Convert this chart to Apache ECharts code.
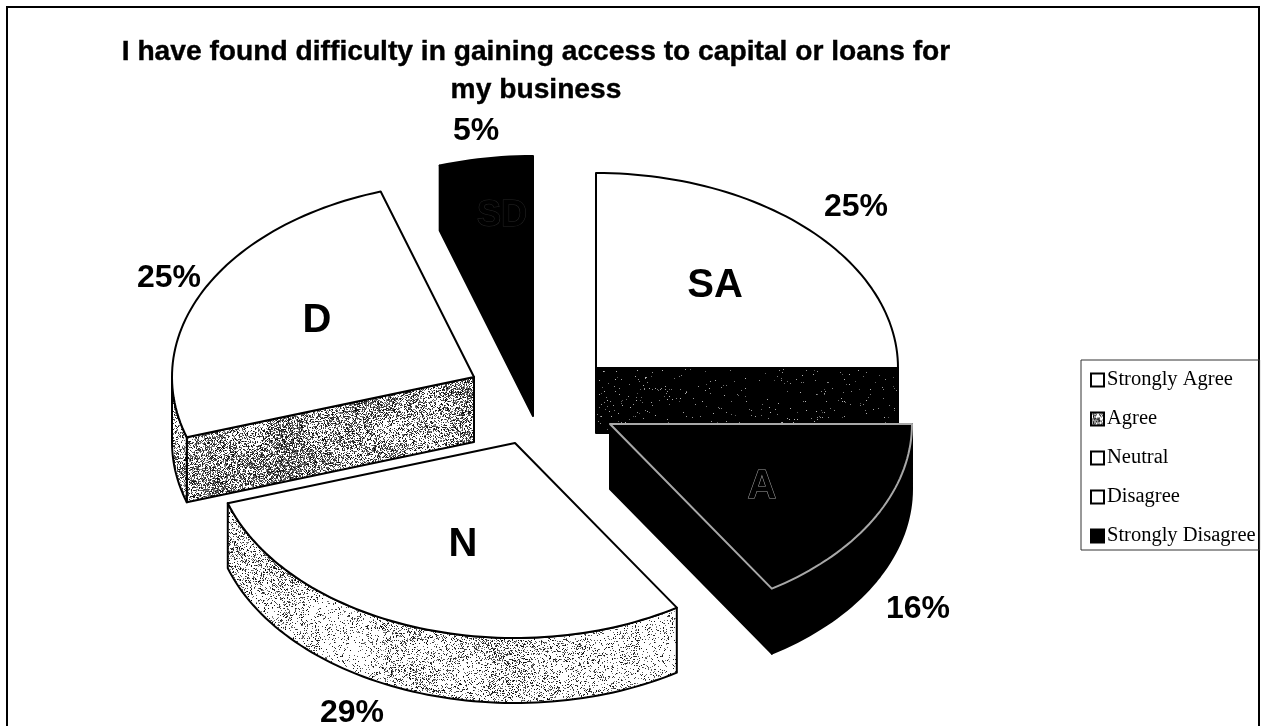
<!DOCTYPE html>
<html>
<head>
<meta charset="utf-8">
<style>html,body{margin:0;padding:0;background:#fff}#c{width:1268px;height:726px;filter:blur(0.45px)}</style>
<script src="https://cdn.jsdelivr.net/npm/echarts@6/dist/echarts.min.js"></script>
</head>
<body>
<div id="c"></div>
<script>
var titleText = 'I have found difficulty in gaining access to capital or loans for\nmy business';
var categories = ['Strongly Agree', 'Agree', 'Neutral', 'Disagree', 'Strongly Disagree'];
var abbreviations = ['SA', 'A', 'N', 'D', 'SD'];
var values = [25, 16, 29, 25, 5];

// Deterministic print-grain texture (not data)
function hash(x, y, s) {
  var n = Math.sin(x * 127.1 + y * 311.7 + s * 74.7) * 43758.5453;
  return n - Math.floor(n);
}
function blob(x, y, cell, s) {
  var gx = Math.floor(x / cell), gy = Math.floor(y / cell);
  var fx = x / cell - gx, fy = y / cell - gy;
  fx = fx * fx * (3 - 2 * fx); fy = fy * fy * (3 - 2 * fy);
  var a = hash(gx, gy, s), b = hash(gx + 1, gy, s), c = hash(gx, gy + 1, s), d = hash(gx + 1, gy + 1, s);
  return (a * (1 - fx) + b * fx) * (1 - fy) + (c * (1 - fx) + d * fx) * fy;
}
function grain(base, amp, seed, bg, fg) {
  var size = 320, cv = document.createElement('canvas');
  cv.width = size; cv.height = size;
  var ctx = cv.getContext('2d');
  ctx.fillStyle = bg; ctx.fillRect(0, 0, size, size);
  for (var y = 0; y < size; y++) for (var x = 0; x < size; x++) {
    var density = base + amp * (blob(x, y, 36, seed) - 0.5) * 2 + 0.3 * amp * (blob(x, y, 6, seed + 3) - 0.5) * 2;
    if (hash(x, y, seed + 9) < density) {
      ctx.globalAlpha = 0.45 + 0.55 * hash(x, y, seed + 17);
      ctx.fillStyle = fg;
      ctx.fillRect(x, y, 1, 1);
    }
  }
  ctx.globalAlpha = 1;
  return { image: cv, repeat: 'repeat' };
}

var darkGrain = grain(0.018, 0.012, 1, '#000000', '#bbbbbb');
var midGrain = grain(0.5, 0.22, 2, '#ffffff', '#000000');
var lightGrain = grain(0.22, 0.15, 3, '#ffffff', '#000000');

var RX = 302, RY = 195, DEPTH = 65;
var apex = [[596, 368], [610, 424], [515, 443], [474, 377], [533, 351]];
var topFill = ['#ffffff', '#000000', '#ffffff', '#ffffff', '#000000'];
var sideFill = [darkGrain, '#000000', lightGrain, midGrain, '#000000'];
var topStroke = ['#000000', '#a8a8a8', '#000000', '#000000', '#000000'];
var legendFill = ['#ffffff', midGrain, '#ffffff', '#ffffff', '#000000'];
var innerPos = [[715, 286], [762, 487], [463, 545], [317, 321], [502, 216]];
var innerStyle = [
  { fill: '#000', font: 'bold 40px "Liberation Sans"' },
  { fill: '#000', stroke: '#a0a0a0', lineWidth: 1, font: 'bold 40px "Liberation Sans"' },
  { fill: '#000', font: 'bold 40px "Liberation Sans"' },
  { fill: '#000', font: 'bold 40px "Liberation Sans"' },
  { fill: '#000', stroke: '#262626', lineWidth: 1, font: 'bold 36px "Liberation Sans"' }
];
var pctPos = [[856, 207], [918, 609], [352, 713], [169, 278], [476, 131]];

var total = values.reduce(function (a, b) { return a + b; }, 0);
function rim(c, deg, dz) {
  var t = deg * Math.PI / 180;
  return [c[0] + RX * Math.sin(t), c[1] - RY * Math.cos(t) + (dz || 0)];
}
function arc(c, a, b, dz) {
  var pts = [], n = Math.max(2, Math.ceil(Math.abs(b - a) / 1.5));
  for (var i = 0; i <= n; i++) pts.push(rim(c, a + (b - a) * i / n, dz));
  return pts;
}
function startAngle(idx) {
  var s = 0;
  for (var i = 0; i < idx; i++) s += values[i];
  return s / total * 360;
}
function wall(points, fill) {
  return { type: 'polygon', shape: { points: points }, style: { fill: fill, stroke: '#000', lineWidth: 2, lineJoin: 'round' } };
}
function renderSlice(idx) {
  return function (params, api) {
    var c = apex[idx], a0 = startAngle(idx), a1 = a0 + api.value(0) / total * 360;
    var kids = [], d = [c[0], c[1] + DEPTH];
    var s0 = Math.sin(a0 * Math.PI / 180), s1 = Math.sin(a1 * Math.PI / 180);
    if (s0 < -1e-6) {
      kids.push(wall([c, rim(c, a0), rim(c, a0, DEPTH), d], sideFill[idx]));
    }
    if (s1 > 1e-6) {
      kids.push(wall([c, rim(c, a1), rim(c, a1, DEPTH), d], sideFill[idx]));
    }
    var f0 = Math.max(a0, 90), f1 = Math.min(a1, 270);
    if (f1 > f0) {
      kids.push(wall(arc(c, f0, f1).concat(arc(c, f1, f0, DEPTH)), sideFill[idx]));
    }
    kids.push({
      type: 'polygon',
      shape: { points: [c].concat(arc(c, a0, a1)) },
      style: { fill: topFill[idx], stroke: topStroke[idx], lineWidth: 2, lineJoin: 'round' }
    });
    var st = innerStyle[idx];
    kids.push({
      type: 'text', x: innerPos[idx][0], y: innerPos[idx][1],
      style: { text: abbreviations[idx], font: st.font, fill: st.fill, stroke: st.stroke, lineWidth: st.lineWidth, textAlign: 'center', textVerticalAlign: 'middle' }
    });
    kids.push({
      type: 'text', x: pctPos[idx][0], y: pctPos[idx][1],
      style: { text: api.value(0) + '%', font: 'bold 32px "Liberation Sans"', fill: '#000', textAlign: 'center', textVerticalAlign: 'middle' }
    });
    return { type: 'group', children: kids };
  };
}

var chart = echarts.init(document.getElementById('c'), null, { renderer: 'canvas', width: 1268, height: 726 });
chart.setOption({
  animation: false,
  backgroundColor: '#ffffff',
  title: {
    text: titleText,
    left: 531, top: 28, textAlign: 'center',
    textStyle: { fontFamily: 'Liberation Sans', fontWeight: 'bold', fontSize: 28.2, lineHeight: 38, color: '#000', textBorderColor: '#000', textBorderWidth: 0.4 }
  },
  legend: {
    orient: 'vertical', left: 1081, top: 360,
    padding: [8, 4, 2, 9],
    itemWidth: 13, itemHeight: 13, itemGap: 15,
    borderColor: '#333', borderWidth: 1,
    icon: 'rect',
    selectedMode: false,
    textStyle: { fontFamily: 'Liberation Serif', fontSize: 20.5, color: '#000', padding: [0, 0, 0, -2], lineHeight: 24 },
    data: categories.map(function (name, i) {
      return { name: name, icon: 'rect', itemStyle: { color: legendFill[i], borderColor: '#000', borderWidth: 2 } };
    })
  },
  graphic: [{
    type: 'rect', shape: { x: 7, y: 7, width: 1252, height: 760 },
    style: { fill: 'none', stroke: '#000', lineWidth: 2 }, z: 0, silent: true
  }],
  series: categories.map(function (name, i) {
    return { type: 'custom', name: name, coordinateSystem: 'none', data: [[values[i]]], renderItem: renderSlice(i), silent: true, clip: false };
  })
});
</script>
</body>
</html>
